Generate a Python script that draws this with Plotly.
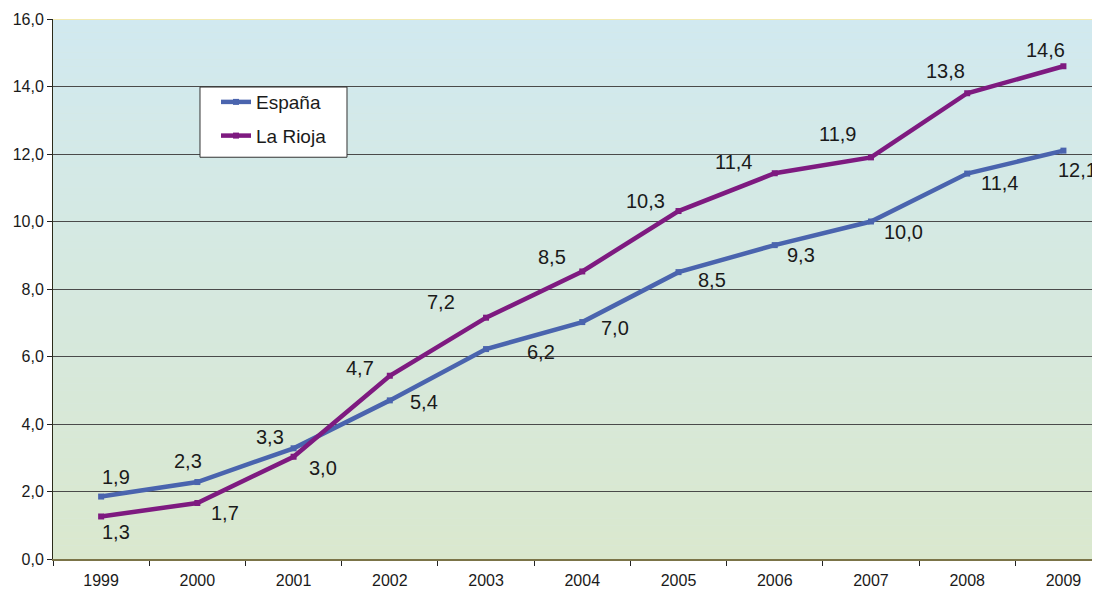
import plotly.graph_objects as go

# -------------------- DATA --------------------
years = ['1999', '2000', '2001', '2002', '2003', '2004', '2005', '2006', '2007', '2008', '2009']

espana = [1.85, 2.28, 3.28, 4.70, 6.22, 7.02, 8.50, 9.30, 10.00, 11.42, 12.10]
rioja = [1.26, 1.66, 3.03, 5.43, 7.15, 8.52, 10.31, 11.43, 11.90, 13.80, 14.60]

espana_labels = ['1,9', '2,3', '3,3', '5,4', '6,2', '7,0', '8,5', '9,3', '10,0', '11,4', '12,1']
rioja_labels = ['1,3', '1,7', '3,0', '4,7', '7,2', '8,5', '10,3', '11,4', '11,9', '13,8', '14,6']

y_ticks = [0, 2, 4, 6, 8, 10, 12, 14, 16]

# label offsets in pixels (styling only)
espana_shift = [(15, 20), (-9, 21), (-24, 11), (34, -2), (55, -3), (33, -6), (33, -8),
                (26, -10), (33, -10), (32, -9), (14, -19)]
rioja_shift = [(15, -16), (28, -10), (29, -11), (-30, 8), (-45, 16), (-30, 14), (-33, 10),
               (-41, 11), (-33, 23), (-22, 22), (-18, 16)]

blue = '#4a64ae'
purple = '#7e1a80'

fig = go.Figure()

fig.add_trace(go.Scatter(x=years, y=espana, name='España', mode='lines+markers',
                         line=dict(color=blue, width=4.5),
                         marker=dict(symbol='square', size=6, color=blue),
                         legendgroup='a'))
fig.add_trace(go.Scatter(x=years, y=rioja, name='La Rioja', mode='lines+markers',
                         line=dict(color=purple, width=4.5),
                         marker=dict(symbol='square', size=6, color=purple),
                         legendgroup='b'))

# data labels (x as category index)
for vals, labels, shifts in [(espana, espana_labels, espana_shift),
                             (rioja, rioja_labels, rioja_shift)]:
    for i, (v, t, (dx, dy)) in enumerate(zip(vals, labels, shifts)):
        fig.add_annotation(x=i, y=v, text=t, showarrow=False,
                           xshift=dx, yshift=dy,
                           font=dict(family='Liberation Sans, Arial', size=20, color='#1a1a1a'))

# -------------------- GRADIENT BACKGROUND --------------------
top = (209, 233, 240)
bottom = (218, 232, 206)
n = 80
for i in range(n):
    f = (i + 0.5) / n
    c = tuple(round(bottom[k] + (top[k] - bottom[k]) * f) for k in range(3))
    fig.add_shape(type='rect', xref='paper', yref='y',
                  x0=0, x1=1, y0=16 * i / n, y1=16 * (i + 1) / n,
                  fillcolor='rgb(%d,%d,%d)' % c, line=dict(width=0), layer='below')

fig.add_shape(type='line', xref='paper', yref='y', x0=0, x1=1, y0=16, y1=16,
              line=dict(color='#f2eab0', width=2), layer='above')

# legend box (drawn as a shape so it can be wider than plotly's own)
fig.add_shape(type='rect', xref='paper', yref='paper',
              x0=0.1404, x1=0.2808, y0=0.744, y1=0.874,
              fillcolor='white', line=dict(color='#333', width=1), layer='above')

fig.update_xaxes(type='category', range=[-0.5, 10.38], tickson='boundaries',
                 ticks='outside', ticklen=5, tickcolor='#222',
                 showline=True, linecolor='#7b7448', linewidth=2,
                 showgrid=False, automargin=False, ticklabelstandoff=6,
                 tickfont=dict(size=16, color='#1a1a1a'))
fig.update_yaxes(range=[0, 16], tickvals=y_ticks, tickformat='.1f',
                 ticks='outside', ticklen=5, tickcolor='#222',
                 showline=True, linecolor='#2b2b1a', linewidth=1,
                 showgrid=True, gridcolor='#4a4a4a', gridwidth=1,
                 zeroline=False, automargin=False,
                 tickfont=dict(size=16, color='#1a1a1a'))

# page body adds 8px offset, so the figure is 1092x581
fig.update_layout(
    width=1092, height=581,
    margin=dict(l=45, r=0, t=11, b=30, autoexpand=False),
    separators=',.',
    font=dict(family='Liberation Sans, Arial', color='#1a1a1a'),
    plot_bgcolor='#d6e9df', paper_bgcolor='white',
    legend=dict(x=0.1557, y=0.8814, xanchor='left', yanchor='top',
                bgcolor='rgba(0,0,0,0)', borderwidth=0,
                font=dict(size=19), tracegroupgap=6, itemwidth=30),
    showlegend=True,
)

fig.write_html("out.html")
